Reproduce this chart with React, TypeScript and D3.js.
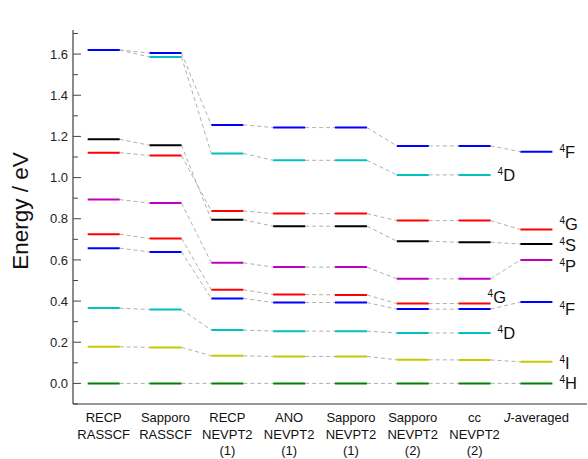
import React from "react";
import * as d3 from "d3";

const columns: string[][] = [
  ["RECP", "RASSCF"],
  ["Sapporo", "RASSCF"],
  ["RECP", "NEVPT2", "(1)"],
  ["ANO", "NEVPT2", "(1)"],
  ["Sapporo", "NEVPT2", "(1)"],
  ["Sapporo", "NEVPT2", "(2)"],
  ["cc", "NEVPT2", "(2)"],
  ["J-averaged"],
];

// energies per state (eV), null = not shown in that column
const green4H = [0, 0, 0, 0, 0, 0, 0, 0];
const yellow4I = [0.178, 0.175, 0.134, 0.131, 0.131, 0.115, 0.114, 0.105];
const cyan4Dlow = [0.366, 0.359, 0.259, 0.254, 0.254, 0.245, 0.245, null];
const blue4Flow = [0.657, 0.639, 0.413, 0.393, 0.393, 0.361, 0.361, 0.395];
const red4Glow = [0.725, 0.704, 0.455, 0.432, 0.43, 0.388, 0.388, null];
const magenta4P = [0.893, 0.876, 0.586, 0.565, 0.565, 0.508, 0.508, 0.6];
const black4S = [1.186, 1.157, 0.795, 0.764, 0.764, 0.691, 0.686, 0.677];
const red4Ghigh = [1.121, 1.107, 0.838, 0.825, 0.825, 0.791, 0.791, 0.748];
const cyan4Dhigh = [1.62, 1.586, 1.117, 1.084, 1.084, 1.013, 1.013, null];
const blue4Fhigh = [1.62, 1.605, 1.256, 1.243, 1.243, 1.154, 1.154, 1.126];

const series = [
  { values: green4H, color: "#008000" },
  { values: yellow4I, color: "#c8c800" },
  { values: cyan4Dlow, color: "#00c0c0" },
  { values: red4Glow, color: "#ff0000" },
  { values: blue4Flow, color: "#0000ff" },
  { values: magenta4P, color: "#c000c0" },
  { values: red4Ghigh, color: "#ff0000" },
  { values: black4S, color: "#000000" },
  { values: cyan4Dhigh, color: "#00c0c0" },
  { values: blue4Fhigh, color: "#0000ff" },
];

// state labels: text letter, column index it sits beside, energy of its centre
const labelLetters = ["F", "D", "G", "S", "P", "G", "F", "D", "I", "H"];
const labelColumns = [7, 6, 7, 7, 7, 6, 7, 6, 7, 7];
const labelEnergies = [1.125, 1.013, 0.774, 0.672, 0.571, 0.418, 0.363, 0.246, 0.1, 0.0];
const labelAbove = [false, false, false, false, false, true, false, false, false, false];

const yTicks = [0, 0.2, 0.4, 0.6, 0.8, 1.0, 1.2, 1.4, 1.6];
const yMinor = [-0.1, 0.1, 0.3, 0.5, 0.7, 0.9, 1.1, 1.3, 1.5, 1.7];

export default function App() {
  const W = 588;
  const H = 459;
  const left = 73;
  const right = 587;
  const top = 30;
  const bottom = 404;

  const y = d3.scaleLinear().domain([-0.1, 1.717]).range([bottom, top]);
  const x = d3
    .scaleLinear()
    .domain([0, 7])
    .range([103.7, 536.4]);
  const halfW = 16;
  const font = "Arial, 'Liberation Sans', sans-serif";

  const bars: React.ReactNode[] = [];
  const links: React.ReactNode[] = [];
  series.forEach((s, si) => {
    s.values.forEach((v, i) => {
      if (v === null) return;
      const nxt = s.values[i + 1];
      if (i < s.values.length - 1 && nxt !== null && nxt !== undefined) {
        links.push(
          <line
            key={`l${si}-${i}`}
            x1={x(i) + halfW}
            x2={x(i + 1) - halfW}
            y1={y(v)}
            y2={y(nxt)}
            stroke="#b0b0b0"
            strokeWidth={1}
            strokeDasharray="4,3"
          />
        );
      }
      bars.push(
        <line
          key={`b${si}-${i}`}
          x1={x(i) - halfW}
          x2={x(i) + halfW}
          y1={y(v)}
          y2={y(v)}
          stroke={s.color}
          strokeWidth={2}
        />
      );
    });
  });

  return (
    <svg width={W} height={H} style={{ position: "absolute", left: 0, top: 0 }} fontFamily={font}>
      <rect width={W} height={H} fill="#fff" />
      {links}
      {bars}
      {/* axes */}
      <line x1={left} x2={left} y1={top} y2={bottom} stroke="#666" strokeWidth={1.5} />
      <line x1={left} x2={right} y1={bottom} y2={bottom} stroke="#333" strokeWidth={1.2} />
      {yTicks.map((t) => (
        <g key={`t${t}`}>
          <line x1={left} x2={left + 8} y1={y(t)} y2={y(t)} stroke="#444" strokeWidth={1} />
          <text x={68} y={y(t)} dy="0.36em" textAnchor="end" fontSize={13} fill="#222">
            {t.toFixed(1)}
          </text>
        </g>
      ))}
      {yMinor.map((t) => (
        <line key={`m${t}`} x1={left} x2={left + 5} y1={y(t)} y2={y(t)} stroke="#444" strokeWidth={1} />
      ))}
      <text
        transform={`translate(28,211) rotate(-90)`}
        textAnchor="middle"
        fontSize={22.5}
        fill="#111"
      >
        Energy / eV
      </text>
      {columns.map((lines, i) => (
        <text key={`c${i}`} textAnchor="middle" fontSize={13} fill="#111">
          {lines.map((ln, j) => (
            <tspan key={j} x={x(i)} y={422 + j * 16.5}>
              {ln === "J-averaged" ? (
                <>
                  <tspan fontStyle="italic">J</tspan>-averaged
                </>
              ) : (
                ln
              )}
            </tspan>
          ))}
        </text>
      ))}
      {labelLetters.map((L, k) => {
        const cx = x(labelColumns[k]) + halfW;
        const lx = labelAbove[k] ? cx - 3 : cx + 7;
        const cy = y(labelEnergies[k]);
        return (
          <text key={`s${k}`} x={lx} y={cy + 6} fontSize={16.5} fill="#111">
            <tspan fontSize={10} dy={-6}>4</tspan>
            <tspan dy={6}>{L}</tspan>
          </text>
        );
      })}
    </svg>
  );
}
